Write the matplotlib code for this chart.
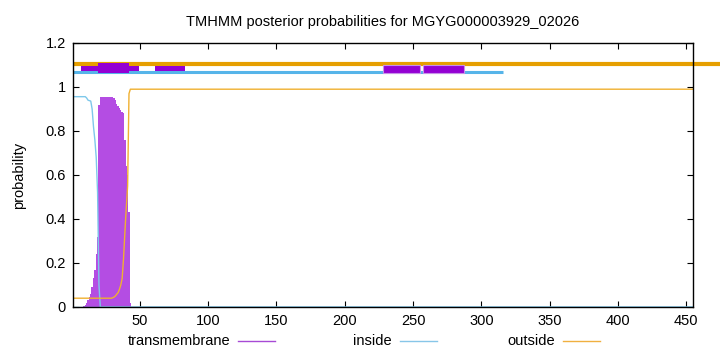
import numpy as np
import matplotlib
matplotlib.use("Agg")
import matplotlib.pyplot as plt
from matplotlib.lines import Line2D

plt.rcParams['font.family'] = ['Liberation Sans', 'DejaVu Sans']

title = "TMHMM posterior probabilities for MGYG000003929_02026"
n_res = 455
residues = np.arange(1, n_res + 1)

# transmembrane posterior (residue: value), others 0
tm_pts = {9: 0.005, 10: 0.01, 11: 0.02, 12: 0.03, 13: 0.045, 14: 0.06, 15: 0.09,
          16: 0.13, 17: 0.17, 18: 0.24, 19: 0.32, 20: 0.92, 21: 0.956, 22: 0.956,
          23: 0.956, 24: 0.956, 25: 0.956, 26: 0.956, 27: 0.956, 28: 0.956, 29: 0.956,
          30: 0.956, 31: 0.95, 32: 0.94, 33: 0.925, 34: 0.915, 35: 0.905, 36: 0.895,
          37: 0.888, 38: 0.88, 39: 0.76, 40: 0.64, 41: 0.6, 42: 0.43, 43: 0.02}
# inside posterior
inside_pts = {11: 0.95, 12: 0.94, 13: 0.938, 14: 0.936, 15: 0.90, 16: 0.82,
              17: 0.76, 18: 0.68, 19: 0.52, 20: 0.1}
inside_start = 0.956
# outside posterior
outside_pts = {30: 0.042, 31: 0.045, 32: 0.05, 33: 0.058, 34: 0.065, 35: 0.08,
               36: 0.10, 37: 0.13, 38: 0.22, 39: 0.34, 40: 0.45, 41: 0.55, 42: 0.97}
outside_start = 0.04
outside_end = 0.99

tm = np.array([tm_pts.get(r, 0.0) for r in residues])
inside = np.array([inside_start if r <= 10 else inside_pts.get(r, 0.0) for r in residues])
outside = np.array([outside_start if r <= 29 else (outside_pts.get(r, outside_end)) for r in residues])

# top prediction segments (start, end)
outside_seg = (1, 475)
inside_seg = (1, 315.7)
tm_boxes_small = [(6.9, 49.6), (60.8, 82.8)]
tm_box_tall = (19.6, 41.8)
tm_boxes_mid = [(228.3, 255.2), (257.1, 287.1)]

fig = plt.figure(figsize=(7.2, 3.52), dpi=100)
ax = fig.add_axes([73/720, 45/352, 620/720, 264/352])

ax.bar(residues, tm, width=1.0, color='#b44de3', linewidth=0, zorder=2)
ax.plot(residues, inside, color='#7ec8ea', lw=1.0, zorder=3)
ax.plot(residues, outside, color='#f0b030', lw=1.0, zorder=3)
ax.plot(residues, np.zeros_like(residues), color='#7ec8ea', lw=1.0, zorder=3)

ax.plot(outside_seg, [1.106, 1.106], color='#e69f00', lw=3.0, solid_capstyle='butt',
        clip_on=False, zorder=4)
ax.plot(inside_seg, [1.068, 1.068], color='#56b4e9', lw=2.2, solid_capstyle='butt', zorder=4)
for s, e in tm_boxes_small:
    ax.fill_between([s, e], 1.0745, 1.096, color='#9400d3', lw=0, zorder=5)
for s, e in tm_boxes_mid:
    ax.fill_between([s, e], 1.064, 1.099, facecolor='#9400d3', edgecolor='#c890e8',
                    lw=0.8, zorder=5)
ax.fill_between(list(tm_box_tall), 1.062, 1.110, color='#9400d3', lw=0, zorder=6)

ax.set_xlim(1, 455)
ax.set_ylim(0, 1.2)
ax.set_xticks([50, 100, 150, 200, 250, 300, 350, 400, 450])
ax.set_yticks([0, 0.2, 0.4, 0.6, 0.8, 1.0, 1.2])
ax.set_yticklabels(["0", "0.2", "0.4", "0.6", "0.8", "1", "1.2"])
ax.tick_params(direction='in', length=4, width=0.8, labelsize=10.5, top=True, right=True,
               pad=5)
for sp in ax.spines.values():
    sp.set_linewidth(1.0)
    sp.set_zorder(10)
ax.set_ylabel("probability", fontsize=10.5, labelpad=14)
ax.set_title(title, fontsize=10.5, pad=12)

# legend below axes
leg_items = [("transmembrane", '#a74ad5', 230, 238, 275),
             ("inside", '#87c6e8', 392, 400, 437),
             ("outside", '#f0b040', 555, 563, 600)]
for label, col, tx, x0, x1 in leg_items:
    fig.text(tx/720, 1 - 341/352, label, ha='right', va='center', fontsize=10.5)
    fig.add_artist(Line2D([x0/720, x1/720], [1 - 341/352, 1 - 341/352],
                          color=col, lw=1.0, transform=fig.transFigure))

fig.savefig("out.png", dpi=100)
